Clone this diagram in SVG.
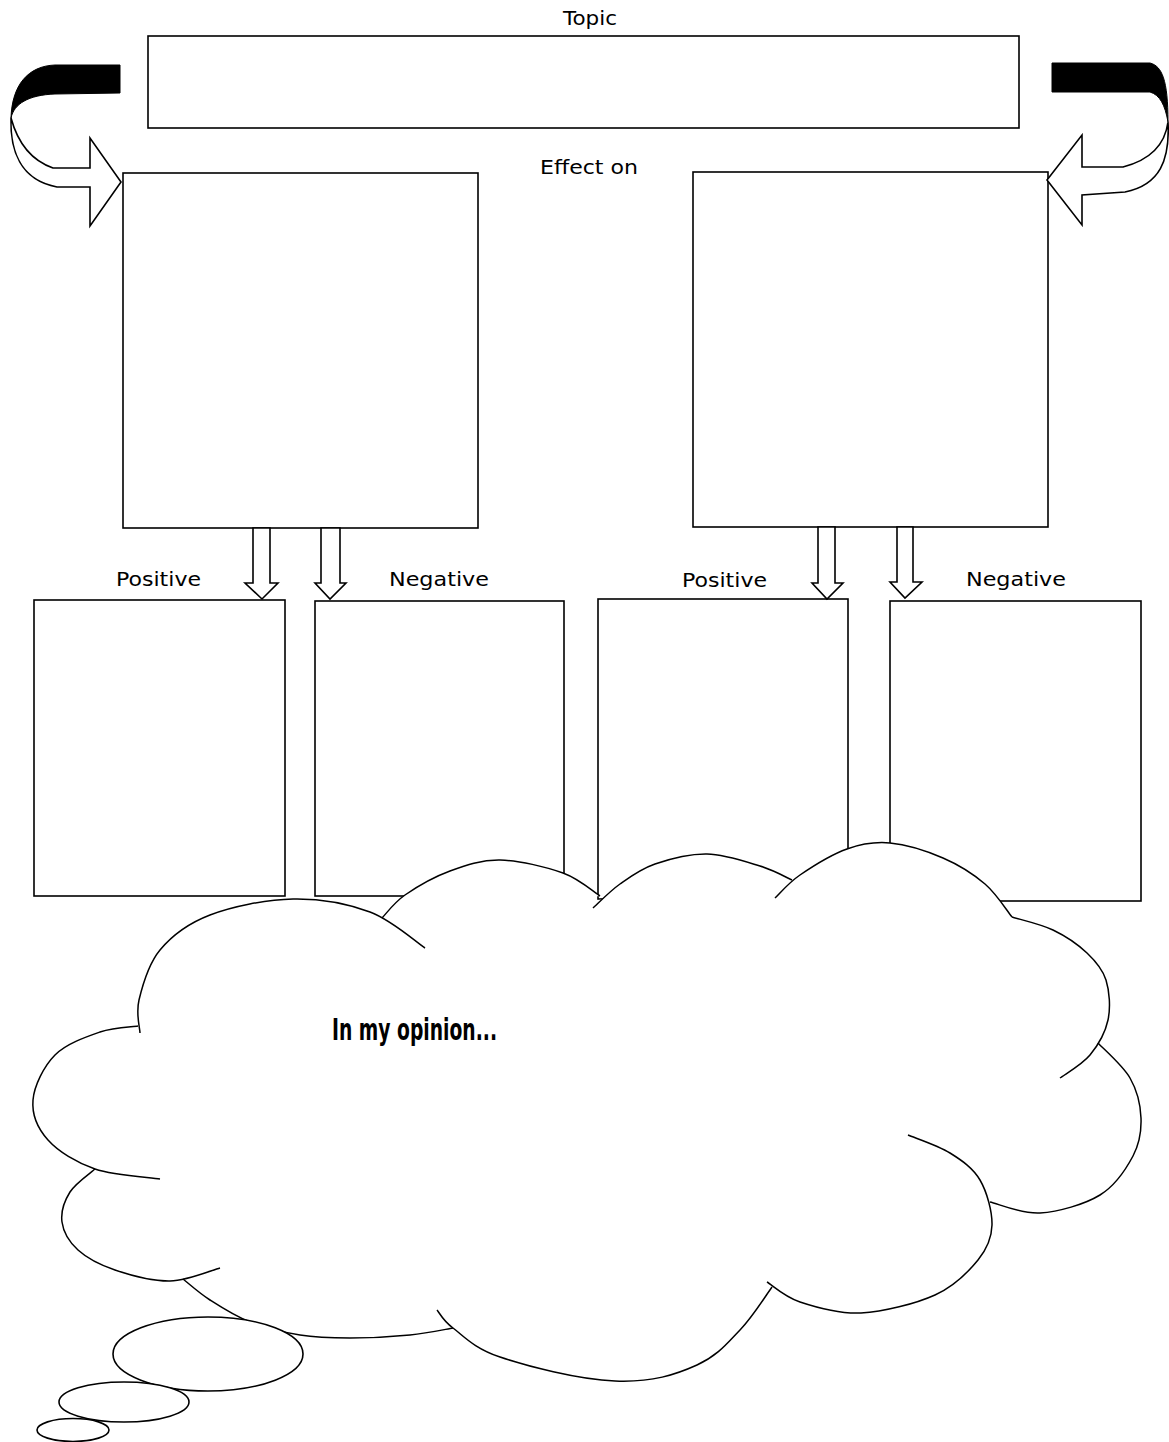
<svg xmlns="http://www.w3.org/2000/svg" xmlns:xlink="http://www.w3.org/1999/xlink" width="1169" height="1442" viewBox="0 0 1169 1442">
<style>
.box{fill:#fff;stroke:#000;stroke-width:1.6}
.arr{fill:#fff;stroke:#000;stroke-width:1.6;stroke-linejoin:miter}
.band{fill:#000;stroke:#000;stroke-width:1}
.lbl{font-family:"DejaVu Sans","Liberation Sans",sans-serif;font-size:20px;fill:#000;text-anchor:middle}
.op{font-family:"DejaVu Sans Condensed","Liberation Sans Narrow","Liberation Sans",sans-serif;font-size:30px;font-weight:bold;fill:#000}
.lobe{fill:none;stroke:#000;stroke-width:1.5}
.lfill{fill:#fff;stroke:none}
.bub{fill:#fff;stroke:#000;stroke-width:1.6}
</style>
<defs>
<path id="L1" d="M140,1033 C139.8,1027.5 135.7,1013.8 139,1000 C142.3,986.2 148.2,964.2 160,950 C171.8,935.8 187.8,923.5 210,915 C232.2,906.5 266.3,899.5 293,899 C319.7,898.5 348,903.8 370,912 C392,920.2 415.8,942 425,948"/>
<path id="L2" d="M382,918 C385.8,914.2 393.7,902.8 405,895 C416.3,887.2 434.2,876.8 450,871 C465.8,865.2 481.2,859.7 500,860 C518.8,860.3 546.3,867 563,873 C579.7,879 593.8,892.2 600,896"/>
<path id="L3" d="M593,908 C597.5,904 609.7,891.3 620,884 C630.3,876.7 640.5,869 655,864 C669.5,859 689.5,853.7 707,854 C724.5,854.3 745.8,861.7 760,866 C774.2,870.3 786.7,877.7 792,880"/>
<path id="L4" d="M775,898 C779.2,894.2 788,883.2 800,875 C812,866.8 832,854.3 847,849 C862,843.7 874,841.5 890,843 C906,844.5 927.2,851.2 943,858 C958.8,864.8 973.5,874.2 985,884 C996.5,893.8 1007.5,911.5 1012,917"/>
<path id="L5" d="M1012,917 C1018.8,919.2 1040.5,924 1053,930 C1065.5,936 1078.2,944.7 1087,953 C1095.8,961.3 1102.5,968.8 1106,980 C1109.5,991.2 1110.7,1007.5 1108,1020 C1105.3,1032.5 1098,1045.3 1090,1055 C1082,1064.7 1065,1074.2 1060,1078"/>
<path id="L6" d="M1098,1043 C1103.3,1048.8 1122.8,1065.5 1130,1078 C1137.2,1090.5 1140.5,1105 1141,1118 C1141.5,1131 1139.8,1143.2 1133,1156 C1126.2,1168.8 1115.5,1185.5 1100,1195 C1084.5,1204.5 1058.3,1211.8 1040,1213 C1021.7,1214.2 998.3,1203.8 990,1202"/>
<path id="L7" d="M908,1135 C915,1138 938,1145.5 950,1153 C962,1160.5 973,1168 980,1180 C987,1192 992.3,1211.7 992,1225 C991.7,1238.3 987.5,1248.3 978,1260 C968.5,1271.7 954.5,1286.2 935,1295 C915.5,1303.8 883.5,1311.8 861,1313 C838.5,1314.2 815.7,1307.2 800,1302 C784.3,1296.8 772.5,1285.3 767,1282"/>
<path id="L8" d="M437,1310 C439.7,1313 442.5,1320.2 453,1328 C463.5,1335.8 473.8,1348.2 500,1357 C526.2,1365.8 577.5,1379.5 615,1381 C652.5,1382.5 676,1374.5 697,1365 C718,1355.5 727.2,1343.2 740,1330 C752.8,1316.8 766.7,1294.2 772,1287"/>
<path id="L9" d="M138,1026 C131.7,1027 113.8,1027.2 100,1032 C86.2,1036.8 66.2,1043.7 55,1055 C43.8,1066.3 34.2,1085.8 33,1100 C31.8,1114.2 37.7,1128.5 48,1140 C58.3,1151.5 76.3,1162.5 95,1169 C113.7,1175.5 149.2,1177.3 160,1179"/>
<path id="L10" d="M95,1169 C90.8,1172.8 75.5,1183.2 70,1192 C64.5,1200.8 60.7,1212.3 62,1222 C63.3,1231.7 69.2,1242 78,1250 C86.8,1258 99.7,1264.8 115,1270 C130.3,1275.2 152.5,1281.3 170,1281 C187.5,1280.7 211.7,1270.2 220,1268"/>
<path id="L11" d="M183,1279 C187.5,1282.5 198.8,1292.8 210,1300 C221.2,1307.2 235,1316.2 250,1322 C265,1327.8 283.3,1332.3 300,1335 C316.7,1337.7 331.7,1338 350,1338 C368.3,1338 392.8,1336.7 410,1335 C427.2,1333.3 445.8,1329.2 453,1328"/>
</defs>

<g id="labels">
<text class="lbl" x="590" y="25" textLength="54" lengthAdjust="spacingAndGlyphs">Topic</text>
<text class="lbl" x="589" y="174" textLength="98" lengthAdjust="spacingAndGlyphs">Effect on</text>
<text class="lbl" x="158.5" y="586" textLength="85" lengthAdjust="spacingAndGlyphs">Positive</text>
<text class="lbl" x="439" y="586" textLength="100" lengthAdjust="spacingAndGlyphs">Negative</text>
<text class="lbl" x="724.5" y="587" textLength="85" lengthAdjust="spacingAndGlyphs">Positive</text>
<text class="lbl" x="1016" y="586" textLength="100" lengthAdjust="spacingAndGlyphs">Negative</text>
</g>

<g id="topic"><rect class="box" x="148" y="36" width="871" height="92"/></g>
<g id="effect-left"><rect class="box" x="123" y="173" width="355" height="355"/></g>
<g id="effect-right"><rect class="box" x="693" y="172" width="355" height="355"/></g>
<g id="positive-left"><rect class="box" x="34" y="600" width="251" height="296"/></g>
<g id="negative-left"><rect class="box" x="315" y="601" width="249" height="295"/></g>
<g id="positive-right"><rect class="box" x="598" y="599" width="250" height="300"/></g>
<g id="negative-right"><rect class="box" x="890" y="601" width="251" height="300"/></g>

<g id="connectors">
<path class="band" d="M120,65 L55,65 C28,66 12,85 11,118 C14,104 28,95 55,94 L120,93 Z"/>
<path class="arr" d="M11,118 C10,150 20,180 57,187 L90,187 L90,226 L121,182 L90,138 L90,168 L53,168 C30,160 17,140 11,118 Z"/>
<path class="band" d="M1052,63 L1150,63 C1162,66 1168,80 1168,122 C1165,105 1160,95 1150,92 L1052,92 Z"/>
<path class="arr" d="M1168,122 C1170,160 1160,185 1125,192 L1082,195 L1082,225 L1047,180 L1082,135 L1082,167 L1123,167 C1150,160 1165,145 1168,122 Z"/>
<polygon class="arr" points="253,528 270,528 270,583 278,583 262,599 245,583 253,583"/>
<polygon class="arr" points="321,528 340,528 340,583 346,583 330,599 315,583 321,583"/>
<polygon class="arr" points="818,527 835,527 835,583 843,583 827,599 812,583 818,583"/>
<polygon class="arr" points="897,527 913,527 913,582 922,582 905,598 890,582 897,582"/>
</g>

<g id="cloud">
<polygon class="lfill" points="140,1030 382,918 598,900 792,882 1012,917 1098,1043 990,1202 770,1285 453,1328 183,1279 95,1169"/>
<g class="lfill">
<use xlink:href="#L1"/><use xlink:href="#L2"/><use xlink:href="#L3"/><use xlink:href="#L4"/><use xlink:href="#L5"/><use xlink:href="#L6"/><use xlink:href="#L7"/><use xlink:href="#L8"/><use xlink:href="#L9"/><use xlink:href="#L10"/><use xlink:href="#L11"/>
</g>
<g class="lobe">
<use xlink:href="#L1"/><use xlink:href="#L2"/><use xlink:href="#L3"/><use xlink:href="#L4"/><use xlink:href="#L5"/><use xlink:href="#L6"/><use xlink:href="#L7"/><use xlink:href="#L8"/><use xlink:href="#L9"/><use xlink:href="#L10"/><use xlink:href="#L11"/>
</g>
<text class="op" x="332" y="1040" textLength="165" lengthAdjust="spacingAndGlyphs">In my opinion...</text>
</g>

<g id="bubbles">
<ellipse class="bub" cx="208" cy="1354" rx="95" ry="37"/>
<ellipse class="bub" cx="124" cy="1402" rx="65" ry="20"/>
<ellipse class="bub" cx="73" cy="1430" rx="36" ry="11.5"/>
</g>
</svg>
